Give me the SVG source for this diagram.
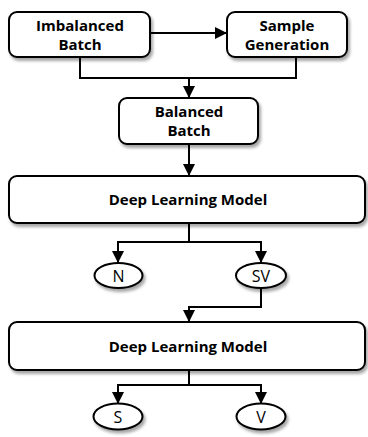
<svg xmlns="http://www.w3.org/2000/svg" width="368" height="437" viewBox="0 0 368 437">
<style>
.box{fill:#fff;stroke:#000;stroke-width:2;filter:url(#sh)}
.t{font-family:"Open Sans","Liberation Sans",sans-serif;font-weight:bold;font-size:15px;text-anchor:middle;fill:#000}
.e{font-family:"Open Sans","Liberation Sans",sans-serif;font-size:16px;text-anchor:middle;fill:#000}
.c{fill:none;stroke:#000;stroke-width:2}
</style>
<defs>
<filter id="sh" x="-10%" y="-20%" width="130%" height="160%">
<feDropShadow dx="2" dy="3" stdDeviation="1.5" flood-color="#000" flood-opacity="0.35"/>
</filter>
<marker id="ar" markerWidth="12" markerHeight="12" refX="11" refY="6" orient="auto" markerUnits="userSpaceOnUse">
<path d="M0,0 L12,6 L0,12 Z" fill="#000"/>
</marker>
</defs>
<rect width="368" height="437" fill="#fff"/>
<g id="connectors">
<path class="c" d="M150,33 H226" marker-end="url(#ar)"/>
<path class="c" d="M80,57 V78 H296 V57"/>
<path class="c" d="M189,78 V97" marker-end="url(#ar)"/>
<path class="c" d="M189,144 V175" marker-end="url(#ar)"/>
<path class="c" d="M189,223 V242 H118 V262" marker-end="url(#ar)"/>
<path class="c" d="M189,242 H261 V262" marker-end="url(#ar)"/>
<path class="c" d="M261,288 V307 H189 V321" marker-end="url(#ar)"/>
<path class="c" d="M189,370 V385 H118 V403" marker-end="url(#ar)"/>
<path class="c" d="M189,385 H261 V403" marker-end="url(#ar)"/>
</g>
<g id="imbalanced">
<rect class="box" x="9" y="12" width="141" height="45" rx="8"/>
<text class="t" x="80" y="31">Imbalanced</text>
<text class="t" x="80" y="50">Batch</text>
</g>
<g id="sample">
<rect class="box" x="227" y="12" width="120" height="45" rx="8"/>
<text class="t" x="287" y="31">Sample</text>
<text class="t" x="287" y="50">Generation</text>
</g>
<g id="balanced">
<rect class="box" x="119" y="98" width="139" height="46" rx="8"/>
<text class="t" x="189" y="117">Balanced</text>
<text class="t" x="189" y="136">Batch</text>
</g>
<g id="dlm1">
<rect class="box" x="9" y="176" width="356" height="47" rx="8"/>
<text class="t" x="188" y="205">Deep Learning Model</text>
</g>
<g id="N">
<ellipse class="box" cx="118.5" cy="275.5" rx="24" ry="12.5"/>
<text class="e" x="118.5" y="281.5">N</text>
</g>
<g id="SV">
<ellipse class="box" cx="261" cy="275.5" rx="25" ry="12.5"/>
<text class="e" x="261" y="281.5">SV</text>
</g>
<g id="dlm2">
<rect class="box" x="9" y="322" width="356" height="48" rx="8"/>
<text class="t" x="188" y="352">Deep Learning Model</text>
</g>
<g id="S">
<ellipse class="box" cx="118" cy="416.5" rx="24.5" ry="13"/>
<text class="e" x="118" y="422.5">S</text>
</g>
<g id="V">
<ellipse class="box" cx="261" cy="416.5" rx="24.5" ry="13"/>
<text class="e" x="261" y="422.5">V</text>
</g>
</svg>
